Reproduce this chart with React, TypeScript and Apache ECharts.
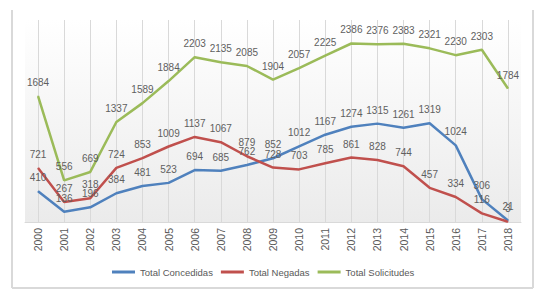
import React, { useEffect, useRef } from "react";
import * as echarts from "echarts";

const years = ["2000","2001","2002","2003","2004","2005","2006","2007","2008","2009","2010","2011","2012","2013","2014","2015","2016","2017","2018"];
const concedidas = [410,136,196,384,481,523,694,685,762,852,1012,1167,1274,1315,1261,1319,1024,306,21];
const negadas = [721,267,318,724,853,1009,1137,1067,879,728,703,785,861,828,744,457,334,116,3];
const solicitudes = [1684,556,669,1337,1589,1884,2203,2135,2085,1904,2057,2225,2386,2376,2383,2321,2230,2303,1784];

const seriesNames = ["Total Concedidas", "Total Negadas", "Total Solicitudes"];
const seriesColors = ["#4F81BD", "#C0504D", "#9BBB59"];

const FONT = "Liberation Sans";

export default function App() {
  const ref = useRef<HTMLDivElement>(null);
  useEffect(() => {
    if (!ref.current) return;
    const chart = echarts.init(ref.current, undefined, { renderer: "svg" });
    const datasets = [concedidas, negadas, solicitudes];
    chart.setOption({
      animation: false,
      backgroundColor: "#ffffff",
      grid: {
        left: 25,
        right: 30,
        top: 20,
        bottom: 75,
        show: true,
        borderWidth: 0,
        backgroundColor: {
          type: "linear",
          x: 0, y: 0, x2: 0, y2: 1,
          colorStops: [
            { offset: 0, color: "#ffffff" },
            { offset: 1, color: "#ebebeb" },
          ],
        },
      },
      xAxis: {
        type: "category",
        data: years,
        boundaryGap: true,
        axisLine: { lineStyle: { color: "#d9d9d9", width: 1 } },
        axisTick: { show: false },
        axisLabel: {
          rotate: 90,
          margin: 6,
          fontSize: 10.5,
          fontFamily: FONT,
          color: "#595959",
        },
        splitLine: {
          show: true,
          alignWithLabel: true,
          lineStyle: { color: "#d9d9d9", width: 1 },
        },
      },
      yAxis: {
        type: "value",
        min: 0,
        max: 2700,
        show: false,
        splitLine: { show: false },
      },
      legend: {
        data: seriesNames,
        left: 107,
        top: 262,
        icon: "rect",
        itemWidth: 23,
        itemHeight: 3,
        itemGap: 8,
        textStyle: { fontSize: 9.5, fontFamily: FONT, color: "#595959" },
      },
      series: datasets.map((d, i) => ({
        name: seriesNames[i],
        type: "line",
        data: d,
        symbol: "circle",
        symbolSize: 1,
        showSymbol: true,
        color: seriesColors[i],
        lineStyle: { width: 2.5, color: seriesColors[i] },
        itemStyle: { color: seriesColors[i] },
        label: {
          show: true,
          position: "top",
          distance: 8,
          fontSize: 10,
          fontFamily: FONT,
          color: "#5f5f5f",
        },
      })),
      graphic: [
        { type: "line", shape: { x1: 12, y1: 10, x2: 12, y2: 288 }, style: { stroke: "#d9d9d9", lineWidth: 2 } },
        { type: "line", shape: { x1: 12, y1: 288, x2: 533, y2: 288 }, style: { stroke: "#d9d9d9", lineWidth: 2 } },
        { type: "line", shape: { x1: 533, y1: 10, x2: 533, y2: 288 }, style: { stroke: "#d9d9d9", lineWidth: 2 } },
      ],
    });
    return () => chart.dispose();
  }, []);
  return (
    <div
      ref={ref}
      style={{ position: "absolute", left: 0, top: 0, width: 551, height: 297 }}
    />
  );
}
